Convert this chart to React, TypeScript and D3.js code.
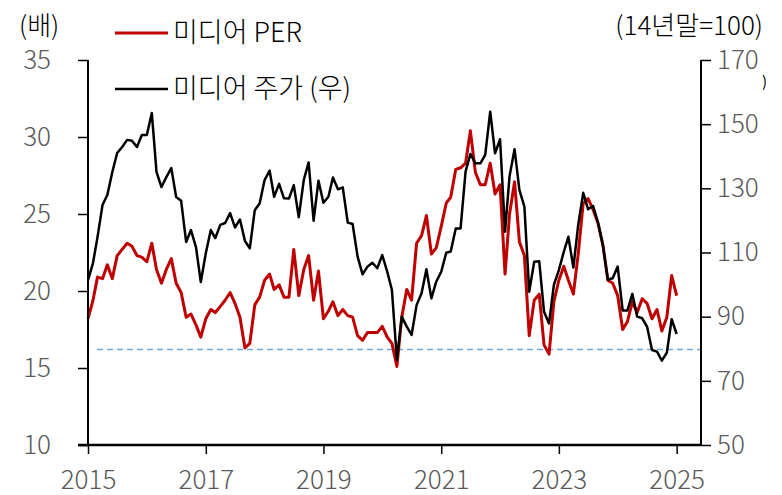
import { useEffect, useRef } from "react";
import * as d3 from "d3";

// monthly, 2015-01 .. 2025-01
const startYear = 2015;
const perValues = [
  18.2, 19.4, 20.9, 20.8, 21.7, 20.8, 22.3, 22.7, 23.1, 22.9, 22.3, 22.2,
  21.9, 23.1, 21.4, 20.5, 21.4, 22.1, 20.5, 19.9, 18.3, 18.5, 17.8, 17.0,
  18.2, 18.8, 18.6, 19.0, 19.4, 19.9, 19.2, 18.3, 16.3, 16.6, 19.1, 19.6,
  20.7, 21.1, 20.1, 20.4, 19.6, 19.6, 22.7, 19.7, 21.4, 22.3, 19.4, 21.3,
  18.2, 18.7, 19.3, 18.4, 18.8, 18.4, 18.3, 17.1, 16.8, 17.3, 17.3, 17.3,
  17.7, 17.0, 16.6, 15.1, 18.3, 20.1, 19.4, 23.1, 23.6, 24.9, 22.4, 22.8,
  24.2, 25.7, 26.1, 27.9, 28.0, 28.3, 30.4, 27.7, 26.9, 26.9, 28.3, 26.3,
  26.9, 21.1, 25.0, 27.1, 23.2, 22.3, 17.1, 19.4, 19.8, 16.5, 15.9, 19.3,
  20.7, 21.6, 20.7, 19.8, 22.4, 25.7, 26.0, 25.3, 24.4, 23.0, 20.7, 20.5,
  19.7, 17.5, 18.0, 19.3, 18.6, 19.5, 19.2, 18.2, 18.8, 17.4, 18.3, 21.0,
  19.7,
];
const priceValues = [
  101.4, 106.7, 114.8, 124.8, 127.9, 135.1, 141.0, 142.9, 145.1, 144.8, 142.9, 146.6,
  146.6, 153.5, 135.1, 130.4, 133.5, 136.3, 127.3, 126.1, 113.3, 117.0, 111.7, 100.8,
  109.8, 117.0, 114.5, 118.6, 119.2, 122.3, 117.8, 120.3, 113.6, 111.3, 123.2, 125.3,
  132.6, 135.5, 127.4, 131.4, 126.9, 126.8, 131.0, 121.0, 132.6, 138.1, 119.9, 132.4,
  125.5, 127.4, 133.4, 129.7, 130.3, 119.3, 118.9, 108.7, 103.2, 105.6, 106.8, 105.1,
  109.2, 104.0, 98.3, 76.5, 90.0, 86.9, 84.3, 93.6, 97.3, 104.8, 95.7, 100.9,
  104.0, 109.9, 110.3, 117.5, 117.5, 135.2, 140.7, 137.8, 137.8, 140.4, 153.9, 140.9,
  145.3, 116.5, 133.8, 142.2, 129.5, 124.3, 97.8, 107.1, 107.3, 91.5, 87.9, 99.9,
  104.5, 110.3, 114.9, 105.3, 118.6, 128.6, 123.5, 124.5, 119.3, 112.3, 101.6, 102.0,
  105.6, 91.9, 91.9, 97.1, 90.0, 89.5, 86.9, 79.6, 79.1, 76.3, 78.8, 89.2,
  84.6,
];
const perReference = 16.2;
const leftTicks = [10, 15, 20, 25, 30, 35];
const rightTicks = [50, 70, 90, 110, 130, 150, 170];
const yearTicks = [2015, 2017, 2019, 2021, 2023, 2025];
const legendItems = ["미디어 PER", "미디어 주가 (우)"];

export default function App() {
  const ref = useRef<SVGSVGElement>(null);

  useEffect(() => {
    const svg = d3.select(ref.current);
    svg.selectAll("*").remove();

    const font = "'Noto Sans CJK KR', 'Noto Sans', sans-serif";
    const left = 88, right = 701, top = 60, bottom = 445;

    const x = d3.scaleTime()
      .domain([new Date(2015, 0, 1), new Date(2025, 5, 1)])
      .range([left, right]);
    const yL = d3.scaleLinear().domain([10, 35]).range([bottom, top]);
    const yR = d3.scaleLinear().domain([50, 170]).range([bottom, top]);

    const dateOf = (i: number) => new Date(startYear, i, 1);

    // dashed reference
    svg.append("line")
      .attr("x1", 97).attr("x2", right)
      .attr("y1", yL(perReference)).attr("y2", yL(perReference))
      .attr("stroke", "#6fa8dc").attr("stroke-width", 1.5)
      .attr("stroke-dasharray", "6,4");

    const lineL = d3.line<number>().x((_, i) => x(dateOf(i))).y(d => yL(d));
    const lineR = d3.line<number>().x((_, i) => x(dateOf(i))).y(d => yR(d));

    svg.append("path").datum(perValues)
      .attr("d", lineL).attr("fill", "none")
      .attr("stroke", "#c00000").attr("stroke-width", 3)
      .attr("stroke-linejoin", "round");
    svg.append("path").datum(priceValues)
      .attr("d", lineR).attr("fill", "none")
      .attr("stroke", "#000").attr("stroke-width", 2.5)
      .attr("stroke-linejoin", "round");

    const styleTicks = (g: any) => {
      g.select(".domain").remove();
      g.selectAll(".tick line").attr("stroke", "#000").attr("stroke-width", 1.5);
      g.selectAll(".tick text").attr("fill", "#595959")
        .style("font-size", "26px").style("font-weight", 300).style("font-family", font);
    };

    // left axis
    const gl = svg.append("g")
      .attr("transform", `translate(${left},0)`)
      .call(d3.axisLeft(yL).tickValues(leftTicks).tickSize(10).tickPadding(0).tickFormat(d3.format("d")));
    styleTicks(gl);
    gl.selectAll(".tick text").attr("x", -37);

    // right axis
    const gr = svg.append("g")
      .attr("transform", `translate(${right},0)`)
      .call(d3.axisRight(yR).tickValues(rightTicks).tickSize(10).tickPadding(0).tickFormat(d3.format("d")));
    styleTicks(gr);
    gr.selectAll(".tick text").attr("x", 16);

    // bottom axis
    const gb = svg.append("g")
      .attr("transform", `translate(0,${bottom})`)
      .call(d3.axisBottom(x).tickValues(yearTicks.map(y => new Date(y, 0, 1))).tickSize(9).tickPadding(0)
        .tickFormat(d => String((d as Date).getFullYear())));
    styleTicks(gb);
    gb.selectAll(".tick text").attr("y", 26);

    // axis lines
    svg.append("line").attr("x1", left).attr("x2", left).attr("y1", top).attr("y2", bottom)
      .attr("stroke", "#000").attr("stroke-width", 2);
    svg.append("line").attr("x1", right).attr("x2", right).attr("y1", top).attr("y2", bottom)
      .attr("stroke", "#000").attr("stroke-width", 2);
    svg.append("line").attr("x1", left - 10).attr("x2", right).attr("y1", bottom).attr("y2", bottom)
      .attr("stroke", "#000").attr("stroke-width", 2.5);

    // titles
    svg.append("text").attr("x", 19).attr("y", 26).attr("dy", "0.35em")
      .style("font-size", "26px").style("font-weight", 300).style("font-family", font)
      .attr("fill", "#000").text("(배)");
    svg.append("text").attr("x", 763).attr("y", 26).attr("dy", "0.35em").attr("text-anchor", "end")
      .style("font-size", "26px").style("font-weight", 300).style("font-family", font)
      .attr("fill", "#000").text("(14년말=100)");
    svg.append("text").attr("x", 762).attr("y", 82).attr("dy", "0.35em")
      .style("font-size", "15px").style("font-family", font).attr("fill", "#000").text(")");

    // legend
    const colors = ["#c00000", "#000"];
    const widths = [3, 2.5];
    const ys = [33, 89];
    legendItems.forEach((label, i) => {
      svg.append("line").attr("x1", 115).attr("x2", 168).attr("y1", ys[i]).attr("y2", ys[i])
        .attr("stroke", colors[i]).attr("stroke-width", widths[i]);
      svg.append("text").attr("x", 173).attr("y", ys[i]).attr("dy", "0.35em")
        .style("font-size", "27px").style("font-weight", 300).style("font-family", font)
        .attr("fill", "#000").text(label);
    });
  }, []);

  return (
    <svg ref={ref} width={782} height={495}
      style={{ position: "absolute", left: 0, top: 0, background: "#fff" }} />
  );
}
